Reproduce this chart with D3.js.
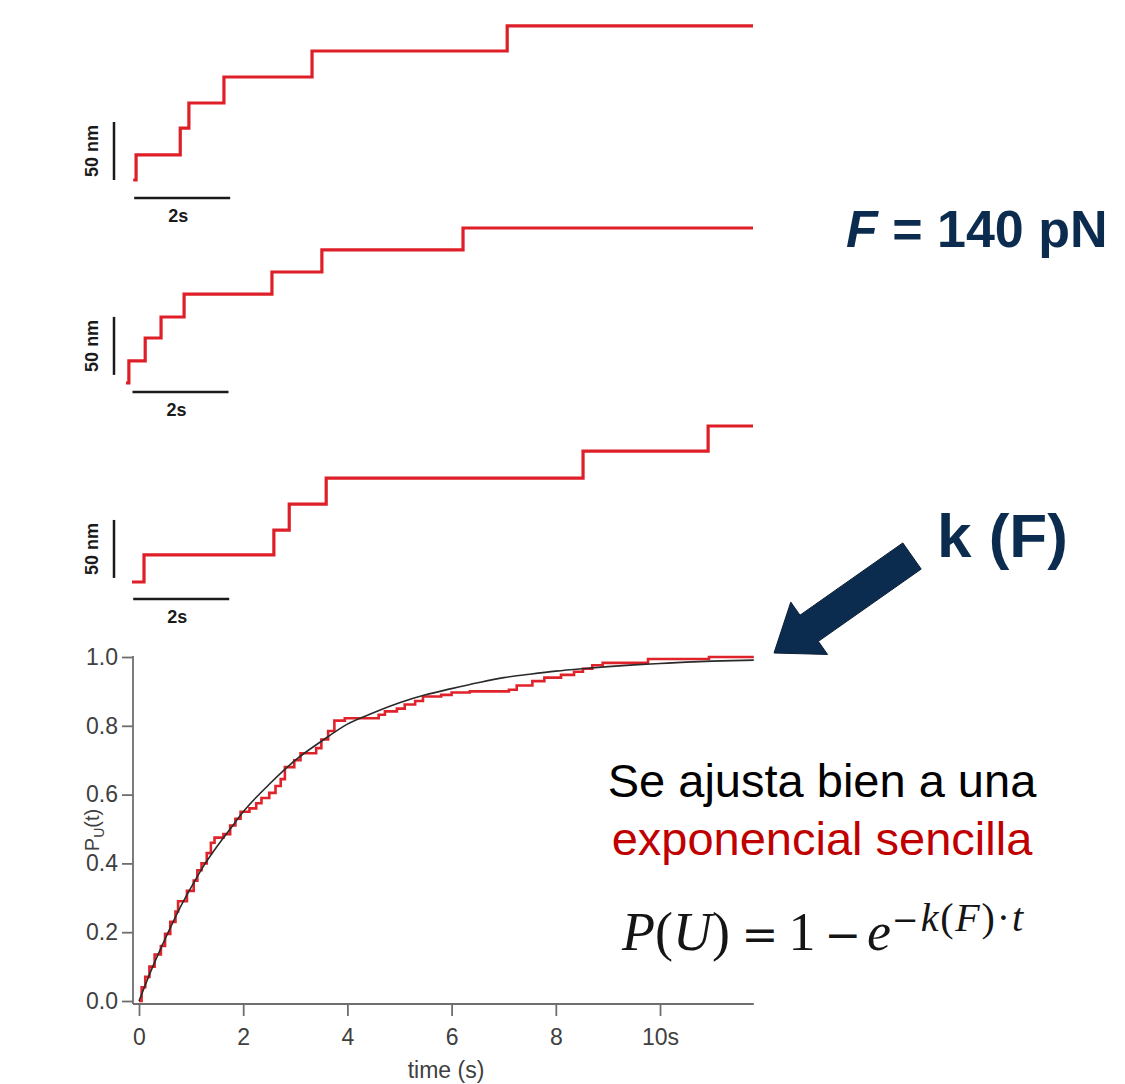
<!DOCTYPE html>
<html><head><meta charset="utf-8">
<script src="https://cdn.jsdelivr.net/npm/d3@7"></script>
<style>body{margin:0;background:#fff;} svg{display:block;}</style>
</head><body><svg id="c" width="1125" height="1084"></svg>
<script>
// ---------- DATA ----------
// Single-molecule extension traces (time in s, extension in nm, step-wise)
const trace1Times  = [0.15, 0.21, 1.13, 1.31, 2.04, 3.875, 7.94, 13.06];
const trace1Levels = [0, 21.6, 44.8, 66.4, 88.8, 111.2, 132.8, 132.8];
const trace2Times  = [0, 0.06, 0.40, 0.73, 1.21, 3.04, 4.08, 7.02, 13.06];
const trace2Levels = [0, 19, 38.8, 56.9, 76.7, 95.7, 114.7, 133.6, 133.6];
const trace3Times  = [0.125, 0.375, 3.08, 3.40, 4.17, 9.52, 12.125, 13.06];
const trace3Levels = [0, 23.3, 44.8, 67.2, 89.5, 112.9, 134.5, 134.5];

// Cumulative unfolding probability (red staircase)
const cdfTimes  = [0, 0.05, 0.12, 0.2, 0.3, 0.42, 0.5, 0.6, 0.7, 0.75, 0.92, 1.05, 1.12, 1.2, 1.3, 1.38, 1.45, 1.62, 1.75, 1.85, 1.95, 2.12, 2.25, 2.35, 2.5, 2.62, 2.72, 2.8, 2.98, 3.1, 3.4, 3.5, 3.63, 3.75, 3.95, 4.6, 4.72, 4.95, 5.1, 5.3, 5.45, 5.8, 6.0, 6.35, 7.1, 7.25, 7.55, 7.78, 8.1, 8.35, 8.52, 8.7, 8.9, 9.77, 10.94, 11.8];
const cdfValues = [0, 0.04, 0.07, 0.1, 0.135, 0.16, 0.195, 0.23, 0.26, 0.29, 0.32, 0.35, 0.38, 0.40, 0.43, 0.46, 0.475, 0.485, 0.51, 0.53, 0.55, 0.56, 0.575, 0.59, 0.605, 0.625, 0.645, 0.68, 0.70, 0.72, 0.735, 0.76, 0.785, 0.815, 0.822, 0.832, 0.842, 0.85, 0.862, 0.872, 0.885, 0.89, 0.897, 0.9, 0.905, 0.917, 0.93, 0.94, 0.948, 0.957, 0.966, 0.976, 0.983, 0.994, 1.0, 1.0];

// Single-exponential fit (black)
const fitTimes  = [0, 0.25, 0.5, 0.75, 1, 1.25, 1.5, 1.75, 2, 2.5, 3, 3.5, 4, 4.5, 5, 5.5, 6, 6.5, 7, 7.5, 8, 8.5, 9, 9.5, 10, 10.5, 11, 11.8];
const fitValues = [0, 0.095, 0.18, 0.26, 0.33, 0.395, 0.45, 0.50, 0.55, 0.63, 0.70, 0.755, 0.805, 0.838, 0.867, 0.89, 0.908, 0.925, 0.94, 0.95, 0.959, 0.966, 0.972, 0.977, 0.981, 0.985, 0.988, 0.991];

const xTickValues = [0, 2, 4, 6, 8, 10];
const xTickLabels = ["0", "2", "4", "6", "8", "10s"];
const yTickValues = [0, 0.2, 0.4, 0.6, 0.8, 1.0];
const yTickLabels = ["0.0", "0.2", "0.4", "0.6", "0.8", "1.0"];

const scaleBarNm = 50, scaleBarSec = 2;

// ---------- DRAW ----------
const svg = d3.select("#c");
svg.append("rect").attr("width",1125).attr("height",1084).attr("fill","#fff");

const sans = "Liberation Sans, Arial, sans-serif";
const traceColor = "#de1f27";
const tx = d3.scaleLinear().domain([0, 13.06]).range([126, 753]);

const traces = [
  {t: trace1Times, v: trace1Levels, base: 180, vbarStart: 0,  hbarStart: 0.17, hbarOff: 18},
  {t: trace2Times, v: trace2Levels, base: 383, vbarStart: 7,  hbarStart: 0.135, hbarOff: 9},
  {t: trace3Times, v: trace3Levels, base: 582, vbarStart: 3.5, hbarStart: 0.15, hbarOff: 17}
];

traces.forEach(tr => {
  const ty = d3.scaleLinear().domain([0, 50]).range([tr.base, tr.base - 58]);
  const pts = tr.t.map((t,i) => [t, tr.v[i]]);
  const line = d3.line().x(d => tx(d[0])).y(d => ty(d[1])).curve(d3.curveStepAfter);
  svg.append("path").datum(pts).attr("d", line)
    .attr("fill","none").attr("stroke", traceColor).attr("stroke-width", 3.2)
    .attr("stroke-linejoin","miter");
  svg.append("line")
    .attr("x1",114).attr("x2",114)
    .attr("y1", ty(tr.vbarStart)).attr("y2", ty(tr.vbarStart + scaleBarNm))
    .attr("stroke","#1a1a1a").attr("stroke-width",2.5);
  const midY = (ty(tr.vbarStart) + ty(tr.vbarStart + scaleBarNm))/2;
  svg.append("text").text("50 nm")
    .attr("transform", `translate(98,${midY}) rotate(-90)`)
    .attr("text-anchor","middle")
    .attr("font-family",sans)
    .attr("font-weight","bold").attr("font-size",18).attr("fill","#1a1a1a");
  const hy = tr.base + tr.hbarOff;
  svg.append("line")
    .attr("x1", tx(tr.hbarStart)).attr("x2", tx(tr.hbarStart + scaleBarSec))
    .attr("y1", hy).attr("y2", hy)
    .attr("stroke","#1a1a1a").attr("stroke-width",2.5);
  svg.append("text").text(scaleBarSec + "s")
    .attr("x", (tx(tr.hbarStart) + tx(tr.hbarStart + scaleBarSec))/2 - 4)
    .attr("y", hy + 24)
    .attr("text-anchor","middle")
    .attr("font-family",sans)
    .attr("font-weight","bold").attr("font-size",18).attr("fill","#1a1a1a");
});

// ---------- Bottom plot ----------
const x = d3.scaleLinear().domain([0, 11.8]).range([139, 753.8]);
const y = d3.scaleLinear().domain([0, 1]).range([1001, 657]);
const axisColor = "#6e6e6e";
const labelColor = "#404040";
const axisY0 = 1004, axisX0 = 133;

svg.append("line").attr("x1",axisX0).attr("x2",axisX0).attr("y1",y(1)-1).attr("y2",axisY0)
  .attr("stroke",axisColor).attr("stroke-width",1.8);
svg.append("line").attr("x1",axisX0).attr("x2",x(11.8)).attr("y1",axisY0).attr("y2",axisY0)
  .attr("stroke",axisColor).attr("stroke-width",1.8);

const xAxis = d3.axisBottom(x).tickValues(xTickValues)
  .tickFormat((d,i) => xTickLabels[i]).tickSizeInner(12).tickSizeOuter(0).tickPadding(13);
const gx = svg.append("g").attr("transform",`translate(0,${axisY0})`).call(xAxis);
gx.select(".domain").remove();
gx.selectAll(".tick line").attr("stroke",axisColor).attr("stroke-width",1.8);
gx.selectAll(".tick text").attr("font-family",sans)
  .attr("font-size",23).attr("fill",labelColor);

const yAxis = d3.axisLeft(y).tickValues(yTickValues)
  .tickFormat((d,i) => yTickLabels[i]).tickSizeInner(11).tickSizeOuter(0).tickPadding(4);
const gy = svg.append("g").attr("transform",`translate(${axisX0},0)`).call(yAxis);
gy.select(".domain").remove();
gy.selectAll(".tick line").attr("stroke",axisColor).attr("stroke-width",1.8);
gy.selectAll(".tick text").attr("font-family",sans)
  .attr("font-size",23).attr("fill",labelColor);

svg.append("text").attr("x", 446).attr("y", 1078).attr("text-anchor","middle")
  .attr("font-family",sans).attr("font-size",23).attr("fill",labelColor)
  .text("time (s)");
const yl = svg.append("text").attr("transform","translate(99,830) rotate(-90)").attr("text-anchor","middle")
  .attr("font-family",sans).attr("font-size",20).attr("fill",labelColor);
yl.append("tspan").text("P");
yl.append("tspan").attr("font-size",14).attr("dy",5).text("U");
yl.append("tspan").attr("dy",-5).text("(t)");

const cdfPts = cdfTimes.map((t,i) => [t, cdfValues[i]]);
svg.append("path").datum(cdfPts)
  .attr("d", d3.line().x(d => x(d[0])).y(d => y(d[1])).curve(d3.curveStepAfter))
  .attr("fill","none").attr("stroke","#e0232b").attr("stroke-width",2.6);
const fitPts = fitTimes.map((t,i) => [t, fitValues[i]]);
svg.append("path").datum(fitPts)
  .attr("d", d3.line().x(d => x(d[0])).y(d => y(d[1])).curve(d3.curveMonotoneX))
  .attr("fill","none").attr("stroke","#2a2a2a").attr("stroke-width",1.6);

// ---------- Annotations ----------
const navy = "#0c2c4f";
const fLab = svg.append("text").attr("x",846).attr("y",247)
  .attr("font-family",sans).attr("font-weight","bold")
  .attr("font-size",52).attr("fill",navy);
fLab.append("tspan").attr("font-style","italic").text("F");
fLab.append("tspan").text(" = 140 pN");

svg.append("text").attr("x",937).attr("y",557)
  .attr("font-family",sans).attr("font-weight","bold")
  .attr("font-size",62).attr("fill",navy).text("k (F)");

(function(){
  const T = [912, 556], P = [774, 653];
  const dx = P[0]-T[0], dy = P[1]-T[1], L = Math.hypot(dx,dy);
  const u = [dx/L, dy/L], n = [-u[1], u[0]];
  const H = [P[0]-u[0]*43, P[1]-u[1]*43];
  const sw = 16, hw = 32;
  const pts = [
    [T[0]+n[0]*sw, T[1]+n[1]*sw],
    [H[0]+n[0]*sw, H[1]+n[1]*sw],
    [H[0]+n[0]*hw, H[1]+n[1]*hw],
    P,
    [H[0]-n[0]*hw, H[1]-n[1]*hw],
    [H[0]-n[0]*sw, H[1]-n[1]*sw],
    [T[0]-n[0]*sw, T[1]-n[1]*sw]
  ];
  svg.append("path").attr("d", d3.line()(pts) + "Z")
    .attr("fill", navy).attr("stroke","#0a1f36").attr("stroke-width",1);
})();

svg.append("text").attr("x",822).attr("y",797).attr("text-anchor","middle")
  .attr("font-family",sans).attr("font-size",47).attr("fill","#000")
  .text("Se ajusta bien a una");
svg.append("text").attr("x",822).attr("y",855).attr("text-anchor","middle")
  .attr("font-family",sans).attr("font-size",47).attr("fill","#c00000")
  .text("exponencial sencilla");

// formula  P(U) = 1 − e^{−k(F)·t}
const serif = "'Liberation Serif', 'Times New Roman', serif";
const opFont = "'DejaVu Serif', serif";
const fcol = "#151515";
const f1 = svg.append("text").attr("x",622).attr("y",950).attr("font-family",serif).attr("font-size",54)
  .attr("fill",fcol);
f1.append("tspan").attr("font-style","italic").text("P");
f1.append("tspan").text("(");
f1.append("tspan").attr("font-style","italic").text("U");
f1.append("tspan").text(")");
svg.append("text").attr("x",760).attr("y",950).attr("text-anchor","middle").attr("font-family",opFont)
  .attr("font-size",44).attr("fill",fcol).text("=");
svg.append("text").attr("x",802).attr("y",950).attr("text-anchor","middle").attr("font-family",serif)
  .attr("font-size",54).attr("fill",fcol).text("1");
svg.append("text").attr("x",843).attr("y",950).attr("text-anchor","middle").attr("font-family",opFont)
  .attr("font-size",44).attr("fill",fcol).text("\u2212");
svg.append("text").attr("x",867).attr("y",950).attr("font-family",serif)
  .attr("font-size",54).attr("font-style","italic").attr("fill",fcol).text("e");
const f2 = svg.append("text").attr("x",892).attr("y",931).attr("font-family",serif).attr("font-size",40)
  .attr("fill",fcol).attr("textLength",131).attr("lengthAdjust","spacing");
f2.append("tspan").attr("font-family",opFont).attr("font-size",32).text("\u2212");
f2.append("tspan").attr("font-style","italic").text("k");
f2.append("tspan").text("(");
f2.append("tspan").attr("font-style","italic").text("F");
f2.append("tspan").text(")\u00B7");
f2.append("tspan").attr("font-style","italic").text("t");
</script></body></html>
